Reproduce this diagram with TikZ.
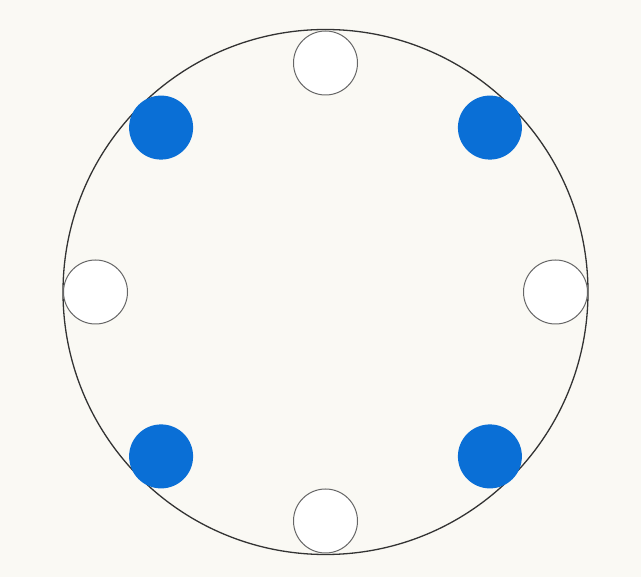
\documentclass[tikz,border=0pt]{standalone}
\usetikzlibrary{calc}
\definecolor{bg}{HTML}{FAF9F4}
\definecolor{dotblue}{HTML}{0A6FD6}
\begin{document}
\begin{tikzpicture}[x=1pt,y=-1pt,
  whitedot/.style={circle,draw=black!60,line width=1pt,fill=white,minimum size=64pt,inner sep=0pt},
  bluedot/.style={circle,fill=dotblue,minimum size=64pt,inner sep=0pt},
  ring/.style={draw=black!80,line width=1.3pt}]
\fill[bg] (0,0) rectangle (641,577);
\useasboundingbox (0,0) rectangle (641,577);
\coordinate (c) at (325.5,292);
\draw[ring] (c) circle (262.5);
\foreach \a/\s/\n/\r in {90/whitedot/t/229, 45/bluedot/tr/232.5, 0/whitedot/r/230, -45/bluedot/br/232.5, -90/whitedot/b/229, -135/bluedot/bl/232.5, 180/whitedot/l/230, 135/bluedot/tl/232.5}{
  \node[\s] (d\n) at ($(c)+({\r*cos(\a)},{-\r*sin(\a)})$) {};
}
\end{tikzpicture}
\end{document}
